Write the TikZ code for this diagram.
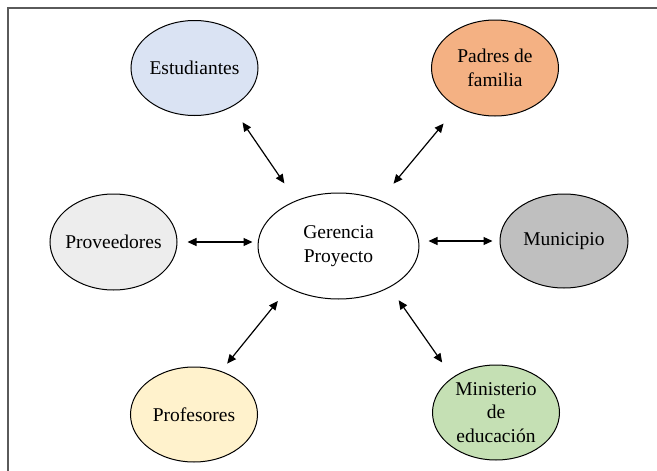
\documentclass[tikz,border=0pt]{standalone}
\usepackage{fontspec}
\setmainfont{Liberation Serif}
\newfontfamily\tnrfont{Liberation Serif}
\usetikzlibrary{shapes.geometric,arrows.meta}
\definecolor{cEst}{HTML}{DAE3F3}
\definecolor{cPad}{HTML}{F4B183}
\definecolor{cPro}{HTML}{EDEDED}
\definecolor{cMun}{HTML}{BFBFBF}
\definecolor{cPrf}{HTML}{FFF2CC}
\definecolor{cMin}{HTML}{C5E0B4}
\definecolor{cFrame}{HTML}{5A5A5A}
\begin{document}
\begin{tikzpicture}[x=1pt,y=-1pt,
  ent/.style={ellipse,draw=black,line width=1pt,inner xsep=-10pt,inner ysep=-5pt,
    minimum width=127pt,minimum height=95pt,align=center,
    font=\tnrfont\fontsize{19.5}{23.5}\selectfont},
  arr/.style={line width=1.2pt,{Triangle[length=9pt,width=8pt]}-{Triangle[length=9pt,width=8pt]}}]
\useasboundingbox (0,0) rectangle (657,471);
\fill[white] (0,0) rectangle (657,471);
\draw[cFrame,line width=2pt] (8,471) -- (8,8) -- (657,8);
\node[ent,minimum width=161pt,minimum height=106pt,fill=white] (ger) at (338.5,246) {Gerencia\\Proyecto};
\node[ent,fill=cEst] (est) at (194.5,68) {Estudiantes};
\node[ent,fill=cPad,minimum height=96pt] (pad) at (495,68) {Padres de\\familia};
\node[ent,fill=cPro,minimum height=96pt] (prov) at (113.5,242) {Proveedores};
\node[ent,fill=cMun,minimum width=128pt,minimum height=94pt] (mun) at (564,241) {Municipio};
\node[ent,fill=cPrf] (prof) at (194,414.5) {Profesores};
\node[ent,fill=cMin] (min) at (496,412.5) {Ministerio\\de\\educación};
\draw[arr,shorten <=18.6pt,shorten >=20.7pt] (est.-46.1) -- (ger.133.7);
\draw[arr,shorten <=21.3pt,shorten >=21.3pt] (pad.226.1) -- (ger.48.2);
\draw[arr,shorten <=10pt,shorten >=5pt] (prov.east) -- (prov.east -| ger.west);
\draw[arr,shorten <=9pt,shorten >=7pt] (mun.west -| ger.east) -- (mun.west);
\draw[arr,shorten <=9.6pt,shorten >=16.7pt] (prof.58) -- (ger.220.7);
\draw[arr,shorten <=15.6pt,shorten >=18pt] (ger.-39.2) -- (min.141.2);
\end{tikzpicture}
\end{document}
